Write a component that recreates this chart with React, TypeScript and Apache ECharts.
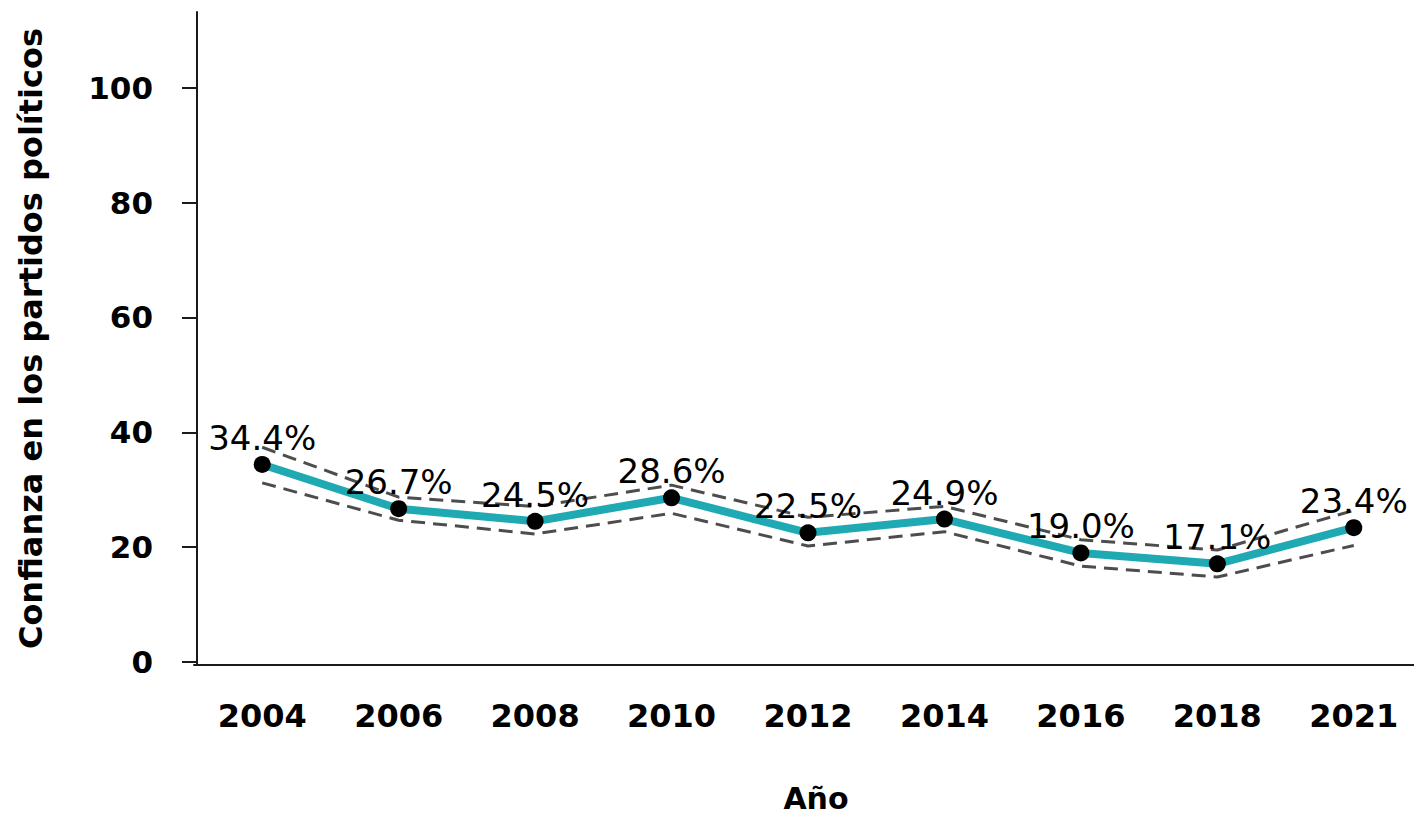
import React, { useEffect, useRef } from "react";
import * as echarts from "echarts";

const years = ["2004", "2006", "2008", "2010", "2012", "2014", "2016", "2018", "2021"];
const confianza = [34.4, 26.7, 24.5, 28.6, 22.5, 24.9, 19.0, 17.1, 23.4];
const upper = [37.4, 28.7, 27.1, 30.8, 25.2, 27.1, 21.3, 19.5, 26.4];
const lower = [31.2, 24.7, 22.3, 25.9, 20.2, 22.7, 16.7, 14.8, 20.3];
const yTicks = [0, 20, 40, 60, 80, 100];

const FONT = "DejaVu Sans";

export default function App() {
  const ref = useRef<HTMLDivElement>(null);
  useEffect(() => {
    if (!ref.current) return;
    const chart = echarts.init(ref.current, null, { renderer: "svg" });
    const dashed = {
      type: "line",
      symbol: "none",
      silent: true,
      z: 1,
      lineStyle: { color: "#4d4d4d", width: 3, type: [14, 8] },
    };
    chart.setOption({
      animation: false,
      backgroundColor: "#ffffff",
      grid: { left: 194, right: -1, top: 12, bottom: 149, containLabel: false },
      xAxis: {
        type: "category",
        data: years,
        boundaryGap: true,
        axisLine: { show: true, onZero: false, lineStyle: { color: "#1a1a1a", width: 2 } },
        axisTick: { show: false },
        axisLabel: {
          margin: 35,
          color: "#000",
          fontFamily: FONT,
          fontWeight: "bold",
          fontSize: 32,
        },
        name: "Año",
        nameLocation: "middle",
        nameGap: 118,
        nameTextStyle: {
          color: "#000",
          fontFamily: FONT,
          fontWeight: "bold",
          fontSize: 30,
          padding: [0, 0, 0, 16],
        },
      },
      yAxis: {
        type: "value",
        min: -0.52,
        max: 113.2,
        offset: -3,
        splitLine: { show: false },
        axisLine: { show: true, lineStyle: { color: "#1a1a1a", width: 2 } },
        axisTick: {
          show: true,
          length: 15,
          customValues: yTicks,
          lineStyle: { color: "#1a1a1a", width: 2 },
        },
        axisLabel: {
          margin: 44,
          customValues: yTicks,
          color: "#000",
          fontFamily: FONT,
          fontWeight: "bold",
          fontSize: 31,
        },
        name: "Confianza en los partidos políticos",
        nameLocation: "middle",
        nameGap: 150,
        nameTextStyle: {
          color: "#000",
          fontFamily: FONT,
          fontWeight: "bold",
          fontSize: 32,
        },
      },
      series: [
        { ...dashed, name: "Superior", data: upper },
        { ...dashed, name: "Inferior", data: lower },
        {
          type: "line",
          name: "Confianza",
          data: confianza,
          z: 3,
          symbol: "circle",
          symbolSize: 17,
          itemStyle: { color: "#000000" },
          lineStyle: { color: "#1fa9b3", width: 8 },
          label: {
            show: true,
            position: "top",
            distance: 1,
            color: "#000",
            fontFamily: FONT,
            fontSize: 34,
            formatter: (p: any) => p.value.toFixed(1) + "%",
          },
        },
      ],
    });
    return () => chart.dispose();
  }, []);
  return <div ref={ref} style={{ width: 1422, height: 818, marginLeft: -8, marginTop: -8 }} />;
}
